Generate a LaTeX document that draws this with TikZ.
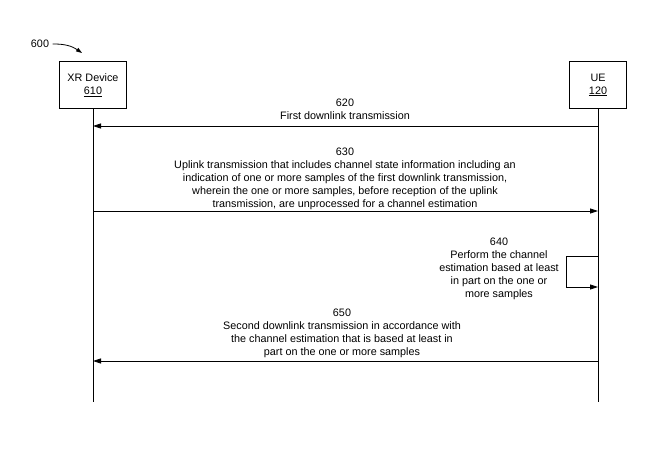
\documentclass[tikz,border=0pt]{standalone}
\usepackage{fontspec}
\setmainfont{Liberation Sans}
\usetikzlibrary{arrows.meta,positioning}

\begin{document}
\begin{tikzpicture}[x=1pt,y=-1pt,font=\fontsize{10.8}{13}\selectfont,
  entbox/.style={draw,line width=0.8pt,minimum width=67pt,minimum height=47pt,align=center,inner sep=2pt},
  life/.style={line width=0.8pt},
  msg/.style={line width=0.8pt,-{Triangle[length=8pt,width=5pt]}},
  msgtext/.style={align=center,anchor=south,inner sep=0pt,text depth=0pt}]
  \useasboundingbox (0,0) rectangle (658,456);

  % entities
  \node[entbox] (xr) at (93,85) {XR Device\\\underline{610}};
  \node[entbox,minimum width=57pt] (ue) at (598,85) {UE\\\underline{120}};

  % figure label
  \node (fig) at (40,44) {600};
  \coordinate (figtip) at (82,53);
  \draw[line width=0.8pt,-{Triangle[length=6pt,width=4pt]}] (fig.east) to[bend left=18] (figtip);

  % lifelines
  \coordinate (yend) at (0,402);
  \coordinate (xrend) at (xr.south |- yend);
  \coordinate (ueend) at (ue.south |- yend);
  \draw[life] (xr.south) -- (xrend);
  \draw[life] (ue.south) -- (ueend);

  % 620
  \coordinate (y620) at (0,126);
  \coordinate (ue620) at (ue.south |- y620);
  \coordinate (xr620) at (xr.south |- y620);
  \draw[msg] (ue620) -- (xr620);
  \node[msgtext] (t620) at (345,120) {620\\First downlink transmission};

  % 630
  \coordinate (y630) at (0,211);
  \coordinate (xr630) at (xr.south |- y630);
  \coordinate (ue630) at (ue.south |- y630);
  \draw[msg] (xr630) -- (ue630);
  \node[msgtext] (t630) at (345,208) {630\\Uplink transmission that includes channel state information including an\\
    indication of one or more samples of the first downlink transmission,\\
    wherein the one or more samples, before reception of the uplink\\
    transmission, are unprocessed for a channel estimation};

  % 640
  \coordinate (y640a) at (0,256);
  \coordinate (y640b) at (0,287);
  \coordinate (ue640a) at (ue.south |- y640a);
  \coordinate (ue640b) at (ue.south |- y640b);
  \coordinate (loopa) at (566,256);
  \coordinate (loopb) at (566,287);
  \draw[msg] (ue640a) -- (loopa) -- (loopb) -- (ue640b);
  \node[msgtext] (t640) at (499,298) {640\\Perform the channel\\estimation based at least\\in part on the one or\\more samples};

  % 650
  \coordinate (y650) at (0,361);
  \coordinate (ue650) at (ue.south |- y650);
  \coordinate (xr650) at (xr.south |- y650);
  \draw[msg] (ue650) -- (xr650);
  \node[msgtext] (t650) at (342,356) {650\\Second downlink transmission in accordance with\\
    the channel estimation that is based at least in\\part on the one or more samples};
\end{tikzpicture}
\end{document}
